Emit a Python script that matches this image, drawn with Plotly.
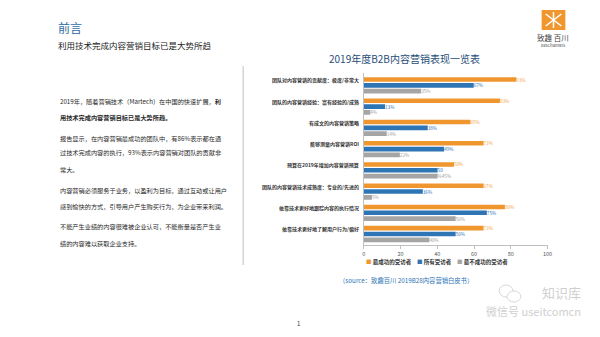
import plotly.graph_objects as go

W, H = 600, 337
FONT = "Noto Sans CJK SC"

categories = [
    "团队对内容营销的贡献度：极度/非常大",
    "团队的内容营销经验：富有经验的/成熟",
    "有成文的内容营销策略",
    "能够测量内容营销ROI",
    "预算在2019年增加内容营销预算",
    "团队的内容营销技术成熟度：专业的/先进的",
    "依靠技术更好地跟踪内容的执行情况",
    "依靠技术更好地了解用户行为/偏好",
]
series_names = ["最成功的受访者", "所有受访者", "最不成功的受访者"]
most_successful = [93, 83, 65, 73, 55, 73, 86, 73]
all_respondents = [67, 13, 39, 49, 45, 36, 75, 56]
least_successful = [35, 4, 14, 22, 45, 5, 56, 40]
most_labels = ["93%", "83%", "65%", "73%", "50%", "67%", "86%", "73%"]
all_labels = ["67%", "13%", "38%", "49%", "50", "36%", "75%", "56%"]
least_labels = ["35%", "4%", "14%", "22%", "%45%", "5%", "56%", "40%"]
tick_values = [0, 20, 40, 60, 80, 100]

colors = ["#F0962F", "#2E75B6", "#A5A5A5"]
label_colors = ["#F2A54A", "#2E75B6", "#A0A0A0"]

def px(x):
    return x / W

def py(y):
    return 1 - y / H

fig = go.Figure()
for name, vals, labs, c, lc in zip(series_names,
                                   [most_successful, all_respondents, least_successful],
                                   [most_labels, all_labels, least_labels],
                                   colors, label_colors):
    fig.add_trace(go.Bar(
        y=categories, x=vals, orientation="h", name=name,
        marker=dict(color=c, line=dict(width=0)),
        text=labs, textposition="outside", constraintext="none",
        textfont=dict(family=FONT, size=4.6, color=lc),
        cliponaxis=False, showlegend=False, hoverinfo="skip",
    ))

# invisible trace to carry the visible 0-100 tick axis
fig.add_trace(go.Scatter(x=[0, 100], y=[categories[0], categories[0]], xaxis="x2",
                         mode="markers", marker=dict(opacity=0), showlegend=False,
                         hoverinfo="skip"))

x0, x1 = px(366), px(552)
y_top, y_bot = py(73), py(245)

fig.update_layout(
    width=W, height=H,
    margin=dict(l=0, r=0, t=0, b=0),
    paper_bgcolor="white", plot_bgcolor="white",
    font=dict(family=FONT, color="#333333"),
    barmode="group", bargap=0.18, bargroupgap=0.2,
    xaxis=dict(domain=[x0, x1], range=[0, 112], showticklabels=False,
               showgrid=False, zeroline=False, showline=False, ticks=""),
    xaxis2=dict(overlaying="x", anchor="y", side="bottom", range=[0, 100],
                tickvals=tick_values, showgrid=False, zeroline=False,
                showline=True, linecolor="#BFBFBF", linewidth=1,
                ticks="outside", ticklen=3, tickcolor="#BFBFBF",
                tickfont=dict(family=FONT, size=5.5, color="#555555")),
    yaxis=dict(domain=[y_bot, y_top], autorange="reversed", showticklabels=False,
               showgrid=False, zeroline=False, showline=True, linecolor="#BFBFBF",
               linewidth=1, ticks=""),
)

ann = []
# category labels
for cat in categories:
    ann.append(dict(x=px(363), y=cat, xref="paper", yref="y", xanchor="right",
                    yanchor="middle", yshift=5, showarrow=False,
                    text="<b>" + cat + "</b>",
                    font=dict(family=FONT, size=5, color="#333333")))

# titles
ann.append(dict(x=px(55), y=py(28), xref="paper", yref="paper", xanchor="left",
                yanchor="middle", showarrow=False, text="前言",
                font=dict(family=FONT, size=12, color="#2E6DA4")))
ann.append(dict(x=px(55), y=py(45), xref="paper", yref="paper", xanchor="left",
                yanchor="middle", showarrow=False, text="利用技术完成内容营销目标已是大势所趋",
                font=dict(family=FONT, size=8.5, color="#222222")))
ann.append(dict(x=px(407), y=py(59), xref="paper", yref="paper", xanchor="center",
                yanchor="middle", showarrow=False, text="2019年度B2B内容营销表现一览表",
                font=dict(family=FONT, size=10, color="#1F4E79")))

# paragraph text
para = [
    (101.5, "2019年，随着营销技术（Martech）在中国的快速扩展，<b>利</b>"),
    (117, "<b>用技术完成内容营销目标已是大势所趋。</b>"),
    (138.5, "报告显示，在内容营销最成功的团队中，有86%表示都在通"),
    (152, "过技术完成内容的执行，93%表示内容营销对团队的贡献非"),
    (169, "常大。"),
    (190, "内容营销必须服务于业务，以盈利为目标，通过互动或让用户"),
    (206, "感到愉快的方式，引导用户产生购买行为，为企业带来利润。"),
    (226.5, "不能产生业绩的内容很难被企业认可，不能衡量是否产生业"),
    (243, "绩的内容难以获取企业支持。"),
]
for y, t in para:
    ann.append(dict(x=px(57), y=py(y), xref="paper", yref="paper", xanchor="left",
                    yanchor="middle", showarrow=False, text=t,
                    font=dict(family=FONT, size=6.2, color="#2A2A2A")))

# legend
leg_x = [366, 418, 458]
for lx, name, c in zip(leg_x, series_names, colors):
    ann.append(dict(x=px(lx), y=py(262), xref="paper", yref="paper", xanchor="left",
                    yanchor="middle", showarrow=False,
                    text="<span style='color:%s'>■</span> <b>%s</b>" % (c, name),
                    font=dict(family=FONT, size=5.5, color="#333333")))

# source
ann.append(dict(x=px(409), y=py(280), xref="paper", yref="paper", xanchor="center",
                yanchor="middle", showarrow=False,
                text="（source：致趣百川 2019B28内容营销白皮书）",
                font=dict(family=FONT, size=6.3, color="#2E75B6")))

# page number
ann.append(dict(x=px(300), y=py(323), xref="paper", yref="paper", xanchor="center",
                yanchor="middle", showarrow=False, text="1",
                font=dict(family=FONT, size=6, color="#333333")))

# logo text
ann.append(dict(x=px(558), y=py(37), xref="paper", yref="paper", xanchor="center",
                yanchor="middle", showarrow=False, text="致趣 百川",
                font=dict(family=FONT, size=7.5, color="#444444")))
ann.append(dict(x=px(558), y=py(45), xref="paper", yref="paper", xanchor="center",
                yanchor="middle", showarrow=False, text="BesChannels",
                font=dict(family=FONT, size=4, color="#444444")))

# watermark
ann.append(dict(x=px(566), y=py(292), xref="paper", yref="paper", xanchor="center",
                yanchor="middle", showarrow=False, text="知识库",
                font=dict(family=FONT, size=13, color="#D0D0D0")))
ann.append(dict(x=px(538), y=py(311), xref="paper", yref="paper", xanchor="center",
                yanchor="middle", showarrow=False, text="微信号 useitcomcn",
                font=dict(family=FONT, size=11, color="#D0D0D0")))

fig.update_layout(annotations=ann)

shapes = [
    # left frame line of chart panel
    dict(type="line", xref="paper", yref="paper", x0=px(244), x1=px(244),
         y0=py(66), y1=py(265), line=dict(color="#BFBFBF", width=1)),
    # logo icon
    dict(type="rect", xref="paper", yref="paper", x0=px(546), x1=px(570),
         y0=py(30), y1=py(10), fillcolor="#F0962F", line=dict(width=0)),
    dict(type="line", xref="paper", yref="paper", x0=px(550), x1=px(566),
         y0=py(14), y1=py(26), line=dict(color="white", width=1.5)),
    dict(type="line", xref="paper", yref="paper", x0=px(550), x1=px(566),
         y0=py(26), y1=py(14), line=dict(color="white", width=1.5)),
    dict(type="line", xref="paper", yref="paper", x0=px(558), x1=px(558),
         y0=py(12), y1=py(28), line=dict(color="white", width=1.5)),
    # watermark chat bubbles
    dict(type="circle", xref="paper", yref="paper", x0=px(503), x1=px(517),
         y0=py(297), y1=py(285), line=dict(color="#D8D8D8", width=1)),
    dict(type="circle", xref="paper", yref="paper", x0=px(511), x1=px(525),
         y0=py(302), y1=py(291), fillcolor="white", line=dict(color="#D8D8D8", width=1)),
]
fig.update_layout(shapes=shapes)

fig.write_html("out.html")
